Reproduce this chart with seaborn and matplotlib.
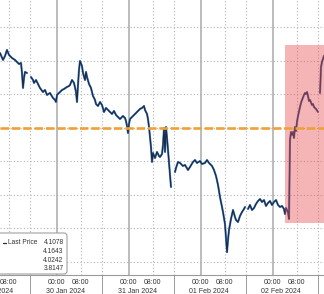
import matplotlib
matplotlib.use("Agg")
import matplotlib.pyplot as plt
import matplotlib.patches as mpatches
from matplotlib.lines import Line2D
from matplotlib.transforms import IdentityTransform, blended_transform_factory
import seaborn as sns
import pandas as pd

# ---- data: hours since 29 Jan 2024 00:00, US 10Y yield ----
seg1_hours = [5.00, 6.00, 6.67, 7.33, 8.00, 9.00, 10.00, 10.67, 11.33, 12.00, 12.33, 12.67, 13.00, 13.33, 14.00]
seg1_price = [4.1119, 4.1015, 4.1075, 4.1164, 4.1090, 4.1045, 4.1015, 4.0985, 4.0955, 4.0970, 4.0821, 4.0597, 4.0746, 4.0836, 4.0821]

seg2_hours = [15.33, 16.00, 16.33, 17.00, 17.33, 18.33, 19.33, 20.00, 20.67, 21.67, 22.67, 23.33, 23.67, 24.00, 25.00,
              25.67, 26.33, 27.33, 28.00, 28.33, 29.00, 29.67, 30.33, 30.67, 31.00, 31.33, 31.67, 32.33, 32.67, 33.33,
              33.67, 34.00, 34.67, 35.33, 36.00, 36.67, 37.00, 37.67, 38.33, 39.00, 39.67, 40.33, 41.00, 41.67, 42.33,
              43.00, 43.67, 44.33, 45.00, 46.00, 46.67, 47.00, 47.33, 47.67, 48.00, 48.33, 49.00, 49.67, 50.33, 51.00,
              51.67, 52.33, 53.00, 53.33, 54.00, 54.33, 54.67, 55.00, 55.33, 55.67, 56.00, 56.67, 57.33, 58.00, 58.33,
              59.00, 59.33, 59.67, 60.00, 60.33, 60.67, 61.00, 61.67, 62.00]
seg2_price = [4.0761, 4.0716, 4.0672, 4.0716, 4.0687, 4.0597, 4.0537, 4.0567, 4.0493, 4.0522, 4.0448, 4.0418, 4.0388, 4.0493, 4.0537,
              4.0567, 4.0582, 4.0612, 4.0627, 4.0642, 4.0716, 4.0672, 4.0537, 4.0388, 4.0642, 4.0866, 4.1000, 4.0925, 4.0821, 4.0716,
              4.0836, 4.0761, 4.0657, 4.0597, 4.0478, 4.0418, 4.0358, 4.0328, 4.0388, 4.0343, 4.0239, 4.0299, 4.0269, 4.0239, 4.0209,
              4.0254, 4.0194, 4.0164, 4.0134, 4.0179, 4.0149, 4.0104, 4.0030, 3.9925, 4.0060, 4.0134, 4.0164, 4.0194, 4.0224, 4.0254,
              4.0284, 4.0299, 4.0328, 4.0269, 4.0209, 4.0134, 4.0015, 3.9866, 3.9716, 3.9493, 3.9627, 3.9552, 3.9642, 3.9582, 3.9567,
              3.9612, 3.9746, 4.0000, 3.9642, 4.0015, 3.9851, 3.9672, 3.9299, 3.9119]

seg3_hours = [63.33, 63.67, 64.33, 65.00, 66.00, 66.67, 67.67, 68.33, 69.33, 70.00, 70.67, 71.67, 72.33, 73.33, 74.00,
              74.67, 75.67, 76.33, 77.00, 77.67, 78.33, 79.00, 79.33, 80.00, 80.33, 80.67, 81.00, 81.33, 82.00, 82.67,
              83.33, 83.67, 84.33, 85.00, 85.67, 86.33, 86.67]
seg3_price = [3.9343, 3.9403, 3.9493, 3.9478, 3.9433, 3.9448, 3.9373, 3.9418, 3.9493, 3.9522, 3.9478, 3.9507, 3.9463, 3.9478, 3.9522,
              3.9478, 3.9433, 3.9373, 3.9284, 3.9149, 3.8970, 3.8821, 3.8746, 3.8567, 3.8358, 3.8147, 3.8328, 3.8478, 3.8642, 3.8776,
              3.8672, 3.8627, 3.8597, 3.8687, 3.8746, 3.8791, 3.8821]

seg4_hours = [87.67, 88.33, 89.00, 89.67, 90.33, 91.00, 91.67, 92.33, 93.00, 93.67, 94.33, 95.00, 95.67, 96.33, 97.00,
              97.67, 98.33, 99.00, 99.67, 100.00, 100.33, 101.00, 101.33, 101.67, 102.00, 102.33, 102.67, 103.00, 103.33, 103.67,
              104.00, 104.33, 105.00, 105.33, 105.67, 106.33, 106.67, 107.00, 107.33, 107.67, 108.00, 108.33, 109.00, 109.33, 109.67,
              110.33, 111.00]
seg4_price = [3.8791, 3.8851, 3.8776, 3.8806, 3.8866, 3.8910, 3.8940, 3.8895, 3.8925, 3.8836, 3.8881, 3.8910, 3.8851, 3.8895, 3.8925,
              3.8851, 3.8821, 3.8836, 3.8791, 3.8716, 3.8806, 3.8746, 3.8642, 3.9821, 3.9940, 3.9896, 3.9940, 3.9851, 4.0015, 3.9955,
              4.0090, 4.0179, 4.0313, 4.0373, 4.0418, 4.0493, 4.0522, 4.0507, 4.0537, 4.0478, 4.0403, 4.0418, 4.0343, 4.0358, 4.0313,
              4.0284, 4.0239]

seg5_hours = [111.67, 112.00, 112.33, 113.00]
seg5_price = [4.0522, 4.0910, 4.0985, 4.1078]

legend_label = "Last Price"
legend_values = ["4.1078", "4.1643", "4.0242", "3.8147"]

day_starts = [24, 48, 72, 96]
day_labels = ["29 Jan 2024", "30 Jan 2024", "31 Jan 2024", "01 Feb 2024", "02 Feb 2024"]
tick_hours = [8, 24, 32, 48, 56, 72, 80, 96, 104]
tick_labels = ["08:00", "00:00", "08:00", "00:00", "08:00", "00:00", "08:00", "00:00", "08:00"]
dotted_hours = [8, 15, 32, 39, 56, 63, 80, 87, 104, 111]
grid_levels = [3.80, 3.85, 3.90, 3.95, 4.00, 4.05, 4.10, 4.15]
ref_level = 4.00
highlight_x = (100.0, 120.0)
highlight_y = (3.858, 4.124)

# ---- build frame ----
frames = []
for i, (h, p) in enumerate([(seg1_hours, seg1_price), (seg2_hours, seg2_price), (seg3_hours, seg3_price),
                            (seg4_hours, seg4_price), (seg5_hours, seg5_price)]):
    frames.append(pd.DataFrame({"hour": h, "price": p, "seg": i}))
df = pd.concat(frames, ignore_index=True)

sns.set_style("white")
plt.rcParams["font.family"] = ["Liberation Sans", "DejaVu Sans"]

fig = plt.figure(figsize=(3.24, 2.94), dpi=100)
ax = fig.add_axes([0, 19 / 294, 1, 275 / 294])
ax.set_xlim(5, 113)
ax.set_ylim(3.7806, 4.191)

# grid
for g in grid_levels:
    ax.axhline(g, color="#b4b4b4", lw=0.8, ls=(0, (1, 2)), zorder=1)
for d in dotted_hours:
    ax.axvline(d, color="#b4b4b4", lw=0.8, ls=(0, (1, 2)), zorder=1)
for d in day_starts:
    ax.axvline(d, color="#a9a9a9", lw=1.1, zorder=1)

# price line
sns.lineplot(data=df, x="hour", y="price", units="seg", estimator=None, color="#4a86c8",
             lw=1.5, ax=ax, zorder=3, legend=False)
sns.lineplot(data=df, x="hour", y="price", units="seg", estimator=None, color="#1c2b48",
             lw=0.9, ax=ax, zorder=3, legend=False)

# highlight
ax.add_patch(mpatches.Rectangle((highlight_x[0], highlight_y[0]), highlight_x[1] - highlight_x[0],
                                highlight_y[1] - highlight_y[0], facecolor=(0.91, 0.31, 0.33),
                                alpha=0.42, edgecolor="none", zorder=4))

# reference line
ax.axhline(ref_level, color="#f0a135", lw=1.9, ls=(0, (3.2, 1.1)), zorder=5)

# axes cosmetics
for s in ["left", "right", "top"]:
    ax.spines[s].set_visible(False)
ax.spines["bottom"].set_color("#9a9a9a")
ax.spines["bottom"].set_linewidth(0.8)
ax.set_yticks([])
ax.set_xticks(tick_hours)
ax.set_xticklabels(tick_labels, fontsize=5.0, color="#333333")
ax.tick_params(axis="x", length=0, pad=2.6)
ax.set_xlabel("")
ax.set_ylabel("")

trans = blended_transform_factory(ax.transData, ax.transAxes)
for i, lab in enumerate(day_labels):
    ax.annotate(lab, xy=(i * 24 + 2.7, 0), xycoords=trans, xytext=(0, -11.6), textcoords="offset points",
                ha="center", va="center", fontsize=5.0, color="#333333", annotation_clip=False)
for d in [15, 39, 63, 87, 111]:
    ax.plot([d, d], [0, -20 / 275], transform=trans, color="#9a9a9a", lw=0.7, clip_on=False)

# legend box (pixel coordinates)
idt = IdentityTransform()
box = mpatches.FancyBboxPatch((-5, 20), 72, 41, boxstyle="round,pad=0,rounding_size=3",
                              facecolor="white", edgecolor="#a0a0a0", lw=0.8, transform=idt, zorder=6)
fig.add_artist(box)
fig.add_artist(Line2D([2.5, 5.5], [51, 51], color="#1c2b48", lw=0.9, transform=idt, zorder=7))
fig.text(8, 51, legend_label, transform=idt, fontsize=4.8, color="#333333", va="center", ha="left", zorder=7)
for v, yy in zip(legend_values, [51, 42.5, 34, 25.5]):
    fig.text(63.5, yy, v, transform=idt, fontsize=4.8, color="#333333", va="center", ha="right", zorder=7)

fig.savefig("out.png", dpi=100)
